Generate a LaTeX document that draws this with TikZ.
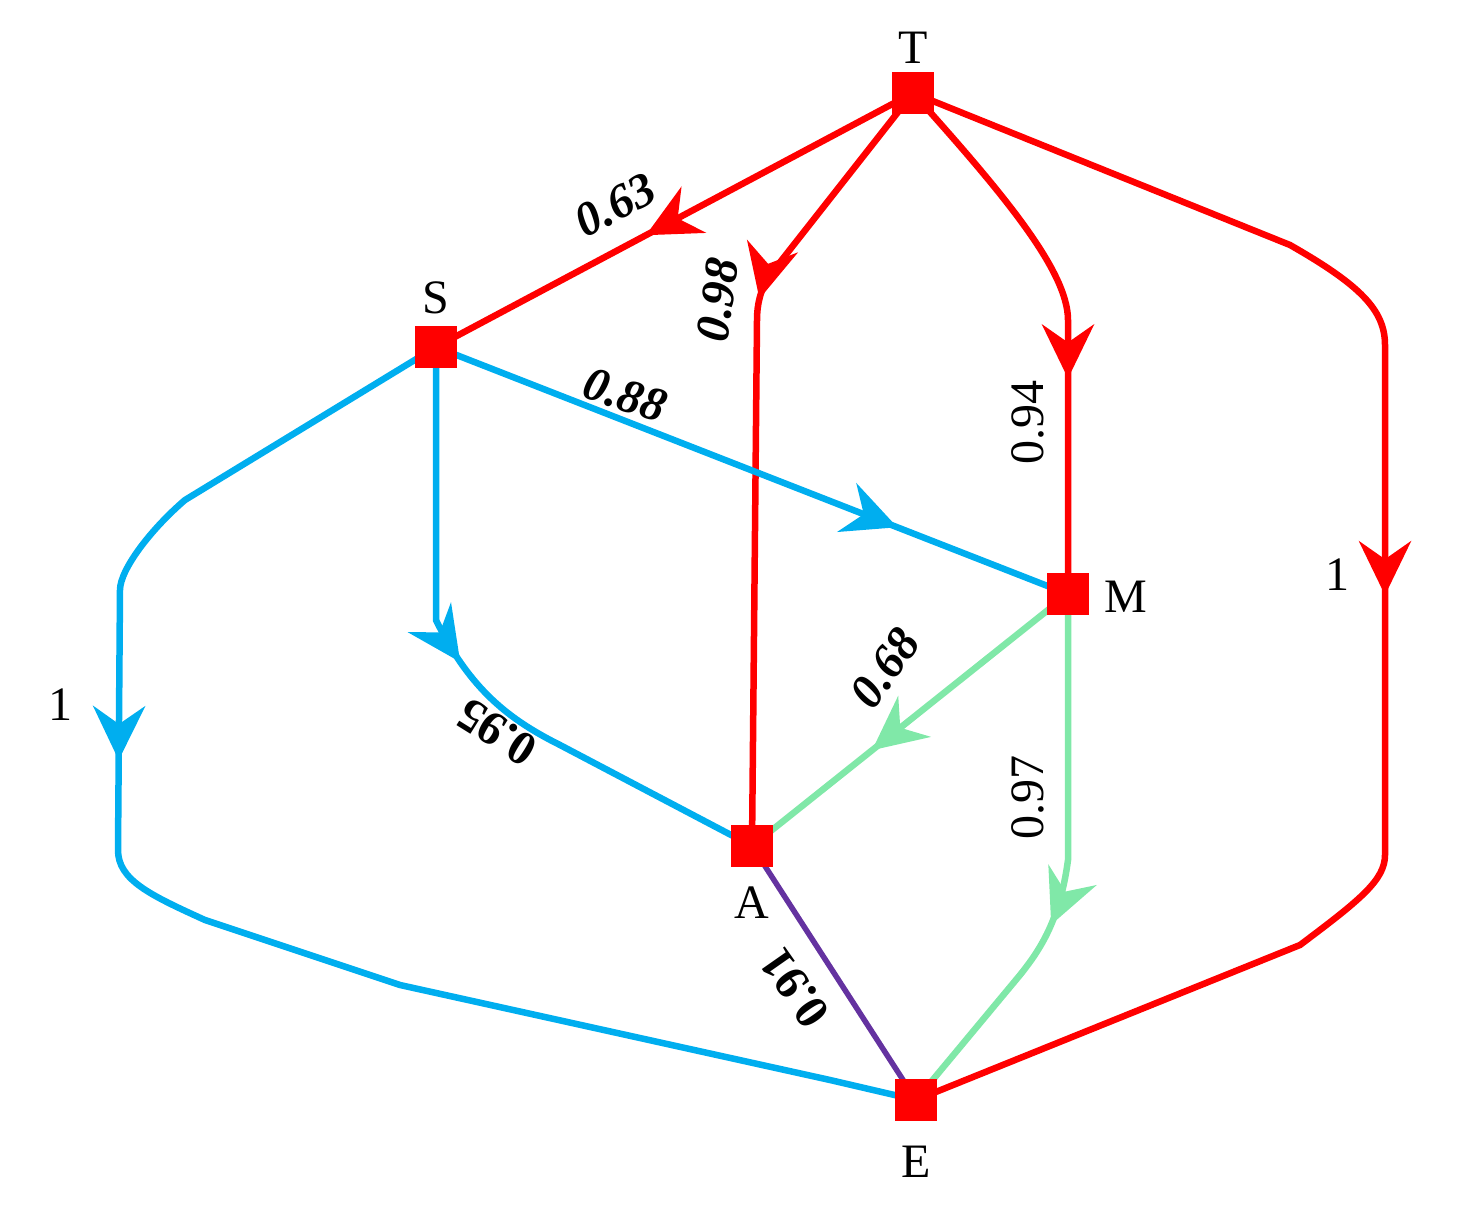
\documentclass[tikz,border=0pt]{standalone}
\usepackage{fontspec}
\setmainfont{Liberation Serif}
\usetikzlibrary{arrows.meta,decorations.markings}
\definecolor{cred}{RGB}{255,0,0}
\definecolor{cblue}{RGB}{0,174,239}
\definecolor{cgreen}{RGB}{128,232,168}
\definecolor{cpurple}{RGB}{100,50,160}
\tikzset{
  sq/.style={fill=cred,minimum size=42pt,inner sep=0pt},
  lbl/.style={font=\fontsize{48}{50}\selectfont,inner sep=0pt},
  edge/.style={line width=6.5pt},
  arrowat/.style={postaction={decorate},decoration={markings,mark=at position #1 with {\arrow{Stealth[length=54pt,width=52pt,inset=18pt]}}}}
}
\begin{document}
\begin{tikzpicture}[x=1pt,y=-1pt]
\useasboundingbox (0,0) rectangle (1468,1217);
\coordinate (T) at (913,93);
\coordinate (S) at (436,347);
\coordinate (M) at (1068,594);
\coordinate (A) at (752,846);
\coordinate (E) at (916,1100);
% edges
\draw[edge,cred,arrowat=0.56] (T) -- (S);
\draw[edge,cred,arrowat=0.32] (T) -- (770,275) .. controls (760,290) and (757,305) .. (757,320) -- (A);
\draw[edge,cred,arrowat=0.61] (T) .. controls (1000,190) and (1068,270) .. (1068,320) -- (M);
\draw[edge,cred,arrowat=0.5] (T) -- (1290,245) .. controls (1360,285) and (1385,310) .. (1385,345) -- (1385,855) .. controls (1385,880) and (1360,900) .. (1300,945) -- (E);
\draw[edge,cblue,arrowat=0.73] (S) -- (M);
\draw[edge,cblue,arrowat=0.48] (S) -- (436,620) .. controls (470,690) and (510,720) .. (560,745) -- (A);
\draw[edge,cblue,arrowat=0.38] (S) -- (185,500) .. controls (150,530) and (120,570) .. (120,590) -- (118,850) .. controls (118,880) and (150,895) .. (205,920) -- (400,985) -- (830,1080) -- (E);
\draw[edge,cgreen,arrowat=0.62] (M) -- (A);
\draw[edge,cgreen,arrowat=0.6] (M) -- (1068,860) .. controls (1060,920) and (1040,950) .. (1020,975) -- (E);
\draw[line width=5.5pt,cpurple] (A) -- (E);
% nodes
\node[sq] (nT) at (T) {};
\node[sq] (nS) at (S) {};
\node[sq] (nM) at (M) {};
\node[sq] (nA) at (A) {};
\node[sq] (nE) at (E) {};
% names
\node[lbl] (tT) at (913,48) {T};
\node[lbl] (tS) at (436,298) {S};
\node[lbl] (tM) at (1126,597) {M};
\node[lbl] (tA) at (752,903) {A};
\node[lbl] (tE) at (916,1162) {E};
% weights
\node[lbl,rotate=28] (w1) at (615,205) {\textit{\textbf{0.63}}};
\node[lbl,rotate=82] (w2) at (718,300) {\textit{\textbf{0.98}}};
\node[lbl,rotate=90] (w3) at (1028,422) {0.94};
\node[lbl] (w4) at (1337,575) {1};
\node[lbl,rotate=-18] (w5) at (625,395) {\textit{\textbf{0.88}}};
\node[lbl,rotate=148] (w6) at (497,732) {\textbf{0.95}};
\node[lbl] (w7) at (60,705) {1};
\node[lbl,rotate=55] (w8) at (885,668) {\textit{\textbf{0.68}}};
\node[lbl,rotate=90] (w9) at (1028,797) {0.97};
\node[lbl,rotate=125] (w10) at (795,988) {\textbf{0.91}};
\end{tikzpicture}
\end{document}
